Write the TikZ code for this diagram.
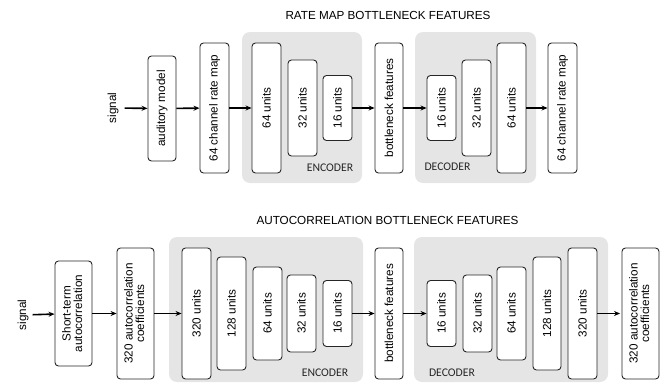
\documentclass[tikz,border=0pt]{standalone}
\usepackage{fontspec}
\setmainfont{Liberation Sans}
\newfontfamily\calib{Carlito}
\usetikzlibrary{arrows.meta}
\tikzset{
  blk/.style={draw=black!85, line width=0.9pt, rounded corners=3.5pt, fill=white, inner sep=0pt, minimum width=29pt},
  bg/.style={fill=black!10, draw=none, rounded corners=8pt},
  arr/.style={-{Stealth[length=6pt,width=5pt]}, line width=1.6pt, black},
  lbl/.style={font=\calib\fontsize{11.7}{14}\selectfont, inner sep=0pt, anchor=center, text=black!85},
  ttl/.style={font=\fontsize{11.7}{14}\selectfont, inner sep=0pt},
  sig/.style={inner sep=0pt, font=\fontsize{11.7}{14}\selectfont},
}
\newcommand{\rt}[1]{\rotatebox{90}{#1}}
\newcommand{\rtt}[2]{\rotatebox{90}{\begin{tabular}{@{}c@{}}#1\\[-2.5pt]#2\end{tabular}}}
\begin{document}
\begin{tikzpicture}[x=1pt,y=-1pt, font=\fontsize{11.7}{14}\selectfont]
\useasboundingbox (0,0) rectangle (667,383);
% ---------- top ----------
\node[ttl] (t1) at (388,15) {RATE MAP BOTTLENECK FEATURES};
\draw[bg] (242,32) rectangle (362,183);
\draw[bg] (415,32) rectangle (536,183);
\node[lbl] (enc1) at (330,168) {ENCODER};
\node[lbl] (dec1) at (447.5,167) {DECODER};
\node[sig] (s1) at (113,108) {\rt{signal}};
\node[blk, minimum width=28pt, minimum height=105pt] (aud) at (162,108.5) {\rt{auditory model}};
\node[blk, minimum height=130pt] (rm1) at (214.5,108) {\rt{64 channel rate map}};
\node[blk, minimum height=130pt] (a64) at (266.5,108) {\rt{64 units}};
\node[blk, minimum height=96pt] (a32) at (302.5,108) {\rt{32 units}};
\node[blk, minimum height=65pt] (a16) at (337.5,108) {\rt{16 units}};
\node[blk, minimum width=28pt, minimum height=130pt] (bn1) at (389,108) {\rt{bottleneck features}};
\node[blk, minimum height=65pt] (b16) at (441.5,108) {\rt{16 units}};
\node[blk, minimum height=96pt] (b32) at (476.5,108) {\rt{32 units}};
\node[blk, minimum height=130pt] (b64) at (511.5,108) {\rt{64 units}};
\node[blk, minimum height=130pt] (rm2) at (562.5,108) {\rt{64 channel rate map}};
\draw[arr, shorten <=6pt] (s1) -- (aud);
\draw[arr] (aud) -- (rm1);
\draw[arr] (rm1) -- (a64);
\draw[arr] (a16) -- (bn1);
\draw[arr] (bn1) -- (b16);
\draw[arr] (b64) -- (rm2);
% ---------- bottom ----------
\node[ttl] (t2) at (387.5,220) {AUTOCORRELATION BOTTLENECK FEATURES};
\draw[bg] (169,237) rectangle (363,382);
\draw[bg] (414,237) rectangle (608,382);
\node[lbl] (enc2) at (325,373) {ENCODER};
\node[lbl] (dec2) at (452,373) {DECODER};
\node[sig] (s2) at (23,315) {\rt{signal}};
\node[blk, minimum width=37pt, minimum height=105pt] (st) at (73.5,313.5) {\rtt{Short-term}{autocorrelation}};
\node[blk, minimum width=37pt, minimum height=131pt] (ac1) at (135.5,313.5) {\rtt{320 autocorrelation}{coefficients}};
\node[blk, minimum height=131pt] (c320) at (196.5,313.5) {\rt{320 units}};
\node[blk, minimum height=113pt] (c128) at (231.5,313.5) {\rt{128 units}};
\node[blk, minimum height=93pt] (c64) at (267.5,313.5) {\rt{64 units}};
\node[blk, minimum height=77pt] (c32) at (301.5,313.5) {\rt{32 units}};
\node[blk, minimum height=66pt] (c16) at (337.5,313.5) {\rt{16 units}};
\node[blk, minimum width=28pt, minimum height=131pt] (bn2) at (389,313.5) {\rt{bottleneck features}};
\node[blk, minimum height=66pt] (d16) at (441.5,313.5) {\rt{16 units}};
\node[blk, minimum height=77pt] (d32) at (477.5,313.5) {\rt{32 units}};
\node[blk, minimum height=93pt] (d64) at (511.5,313.5) {\rt{64 units}};
\node[blk, minimum width=28pt, minimum height=113pt] (d128) at (547,313.5) {\rt{128 units}};
\node[blk, minimum height=131pt] (d320) at (582.5,313.5) {\rt{320 units}};
\node[blk, minimum width=37pt, minimum height=131pt] (ac2) at (640.5,313.5) {\rtt{320 autocorrelation}{coefficients}};
\draw[arr, shorten <=4pt] (s2) -- (st);
\draw[arr] (st) -- (ac1);
\draw[arr] (ac1) -- (c320);
\draw[arr] (c16) -- (bn2);
\draw[arr] (bn2) -- (d16);
\draw[arr, shorten >=1.5pt] (d320) -- (ac2);
\end{tikzpicture}
\end{document}
